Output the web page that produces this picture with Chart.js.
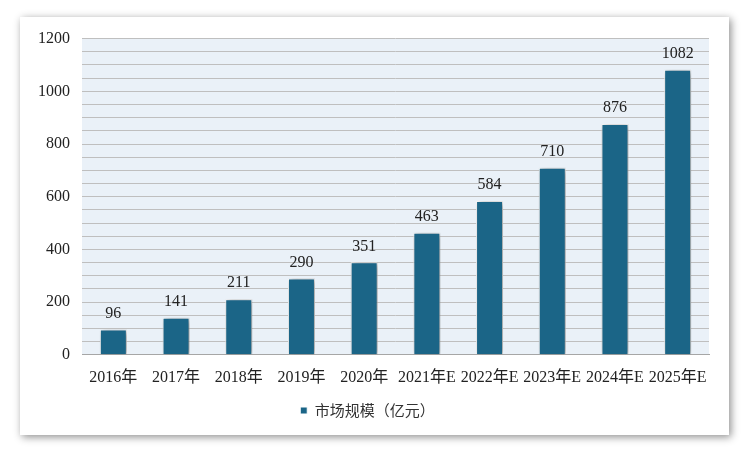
<!DOCTYPE html>
<html>
<head>
<meta charset="utf-8">
<script src="https://cdn.jsdelivr.net/npm/chart.js@4.4.0/dist/chart.umd.min.js"></script>
<style>
  body { margin:0; background:#fff; }
  #caja { position:absolute; left:20px; top:17px; width:709px; height:418px; background:#fff;
          box-shadow: 2px 2px 8px rgba(0,0,0,0.45); }
</style>
</head>
<body>
<div id="caja"><canvas id="grafico"></canvas></div>
<script>
let anios = ['2016年','2017年','2018年','2019年','2020年','2021年E','2022年E','2023年E','2024年E','2025年E']
let valores = [96,141,211,290,351,463,584,710,876,1082]
let serie = '市场规模（亿元）'

let fuente = "'Liberation Serif','Noto Sans CJK SC',serif"

let fondo = {
  id:'fondo',
  beforeDraw(chart){
    let a = chart.chartArea, ctx = chart.ctx
    ctx.save()
    ctx.fillStyle = '#EAF1F8'
    ctx.fillRect(a.left, a.top, a.right-a.left, a.bottom-a.top)
    ctx.restore()
  },
  beforeDatasetsDraw(chart){
    let ctx = chart.ctx
    ctx.save()
    ctx.shadowColor = 'rgba(0,0,0,0.45)'
    ctx.shadowBlur = 6
    ctx.shadowOffsetX = 2
    ctx.shadowOffsetY = 1
  },
  afterDatasetsDraw(chart){
    let ctx = chart.ctx
    ctx.restore()
    ctx.save()
    ctx.font = "16px " + fuente
    ctx.fillStyle = '#222'
    ctx.textAlign = 'center'
    ctx.textBaseline = 'bottom'
    chart.getDatasetMeta(0).data.forEach((barra, i)=>{
      ctx.fillText(valores[i], barra.x, barra.y - 8)
    })
    ctx.restore()
  }
}

let grafico = document.getElementById('grafico').getContext('2d')

new Chart(grafico, {
  type:'bar',
  data:{
    labels: anios,
    datasets:[{
      label: serie,
      data: valores,
      backgroundColor:'#1B6587',
      borderColor:'#ffffff',
      borderWidth:1,
      borderSkipped:'bottom',
      barPercentage:0.43,
      categoryPercentage:1
    }]
  },
  options:{
    responsive:true,
    maintainAspectRatio:false,
    animation:false,
    layout:{ padding:{ left:6, right:20, top:5, bottom:7 } },
    plugins:{
      legend:{
        position:'bottom',
        labels:{
          font:{ size:15, family:"'Noto Sans CJK SC',sans-serif" },
          color:'#333',
          boxWidth:7, boxHeight:7,
          padding:11
        }
      },
      tooltip:{ enabled:false }
    },
    scales:{
      x:{
        grid:{ display:false },
        border:{ color:'#A6A6A6' },
        ticks:{ font:{ size:16, family:fuente }, color:'#222', maxRotation:0, autoSkip:false, padding:5 }
      },
      y:{
        min:0, max:1200,
        grid:{ color:'#BFBFBF', lineWidth:1, drawTicks:false },
        border:{ display:false },
        ticks:{
          stepSize:50, autoSkip:false, padding:12,
          font:{ size:16, family:fuente }, color:'#222',
          callback:(v)=> v%200==0 ? v : ''
        }
      }
    }
  },
  plugins:[fondo]
})
</script>
</body>
</html>
